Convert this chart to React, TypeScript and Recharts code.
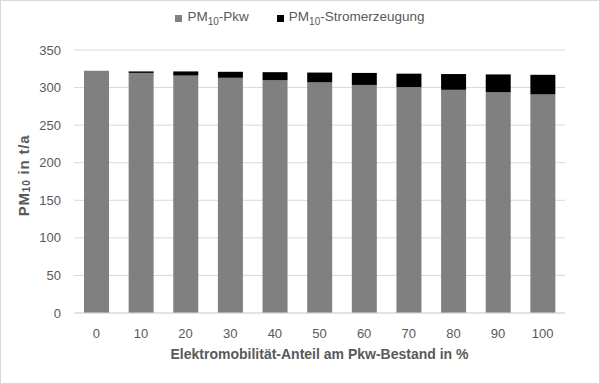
import { BarChart, Bar, XAxis, YAxis, CartesianGrid, Legend } from 'recharts';

const shares = ['0', '10', '20', '30', '40', '50', '60', '70', '80', '90', '100'];
const pkw = [322.5, 319.5, 316, 313, 310, 307, 303.5, 300.5, 297, 294, 291];
const strom = [0, 2, 5.5, 8, 10.5, 13, 16, 18, 21, 23.5, 26];
const yTicks = [0, 50, 100, 150, 200, 250, 300, 350];

const data = shares.map((s, i) => ({ share: s, pkw: pkw[i], strom: strom[i] }));

const textColor = '#595959';
const font = 'Liberation Sans, Arial, sans-serif';

function LegendContent() {
    const items = [
        { color: '#808080', rest: '-Pkw' },
        { color: '#000000', rest: '-Stromerzeugung' },
    ];
    return (
        <div style={{ display: 'flex', justifyContent: 'center', gap: 28, height: 20, alignItems: 'center', fontFamily: font, fontSize: 13.5, color: textColor }}>
            {items.map((it) => (
                <span key={it.rest} style={{ display: 'flex', alignItems: 'center' }}>
                    <span style={{ width: 7, height: 7, background: it.color, display: 'inline-block', marginRight: 5 }} />
                    <span>
                        PM<sub style={{ fontSize: 10 }}>10</sub>
                        {it.rest}
                    </span>
                </span>
            ))}
        </div>
    );
}

function YTitle(props: any) {
    const vb = props.viewBox || {};
    const cx = 22;
    const cy = vb.y + vb.height / 2 - 6;
    return (
        <text
            x={cx}
            y={cy}
            transform={`rotate(-90, ${cx}, ${cy})`}
            textAnchor="middle"
            dominantBaseline="central"
            fill={textColor}
            style={{ fontFamily: font, fontSize: 15, fontWeight: 'bold', letterSpacing: 0.8 }}
        >
            PM<tspan fontSize={10} dy={3}>10</tspan>
            <tspan dy={-3}> in t/a</tspan>
        </text>
    );
}

export default function App() {
    return (
        <div style={{ position: 'absolute', left: 0, top: 0, width: 600, height: 384, border: '1px solid #d9d9d9', boxSizing: 'border-box', background: '#fff' }}>
            <BarChart
                width={598}
                height={382}
                data={data}
                margin={{ top: 29, right: 34, left: 0, bottom: 0 }}
                barSize={25}
            >
                <CartesianGrid vertical={false} stroke="#d9d9d9" />
                <XAxis
                    dataKey="share"
                    height={70}
                    axisLine={{ stroke: '#d9d9d9' }}
                    tickLine={false}
                    tickMargin={10}
                    tick={{ fontSize: 13, fill: textColor, fontFamily: font }}
                    label={{
                        value: 'Elektromobilität-Anteil am Pkw-Bestand in %',
                        position: 'insideBottom',
                        offset: 24,
                        fill: textColor,
                        style: { fontFamily: font, fontSize: 14, fontWeight: 'bold' },
                    }}
                />
                <YAxis
                    width={73}
                    domain={[0, 350]}
                    ticks={yTicks}
                    axisLine={false}
                    tickLine={false}
                    tickMargin={7}
                    tick={{ fontSize: 13, fill: textColor, fontFamily: font }}
                    label={<YTitle />}
                />
                <Legend
                    verticalAlign="top"
                    height={20}
                    wrapperStyle={{ top: 7, left: 0, width: 598 }}
                    content={<LegendContent />}
                />
                <Bar dataKey="pkw" stackId="a" fill="#808080" isAnimationActive={false} />
                <Bar dataKey="strom" stackId="a" fill="#000000" isAnimationActive={false} />
            </BarChart>
        </div>
    );
}
